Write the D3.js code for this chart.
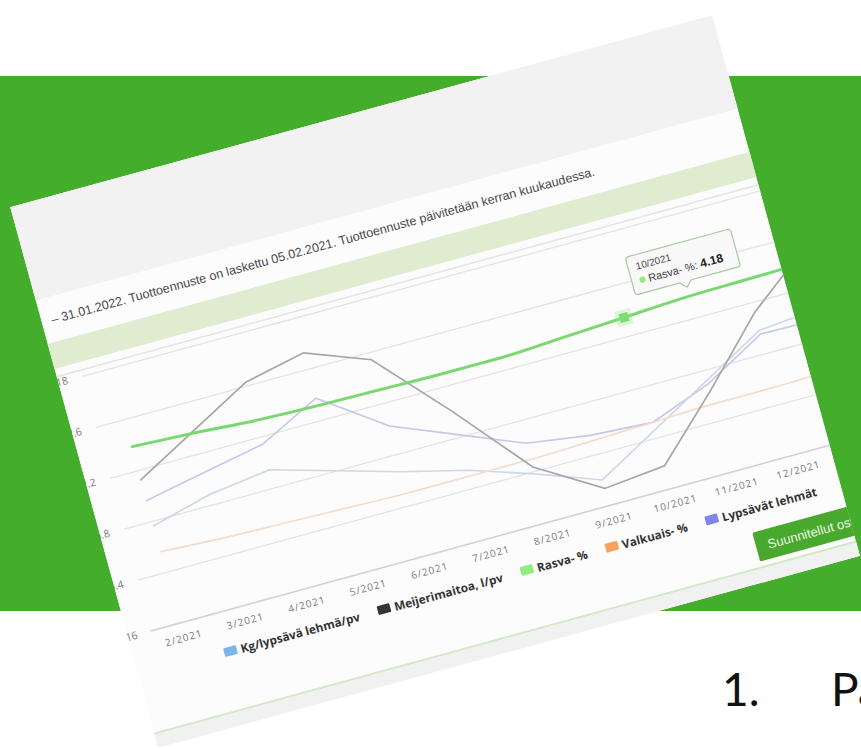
<!DOCTYPE html>
<html>
<head>
<meta charset="utf-8">
<script src="https://cdn.jsdelivr.net/npm/d3@7"></script>
<style>
body { margin: 0; background: #fff; }
svg { display: block; }
</style>
</head>
<body>
<div id="chart"></div>
<script>
// data
var months = ["2/2021", "3/2021", "4/2021", "5/2021", "6/2021", "7/2021", "8/2021", "9/2021", "10/2021", "11/2021", "12/2021", "1/2022"];
var kgPerCow  = [27.8, 28.4, 28.7, 28.0, 27.3, 26.7, 25.9, 25.0, 26.3, 27.6, 28.9, 29.1];
var meijeri   = [468, 506, 544, 559, 531, 451, 365, 320, 327, 395, 468, 523];
var rasva     = [4.23, 4.20, 4.16, 4.14, 4.13, 4.12, 4.12, 4.15, 4.18, 4.21, 4.22, 4.23];
var valkuais  = [3.42, 3.40, 3.39, 3.38, 3.37, 3.37, 3.37, 3.38, 3.39, 3.40, 3.40, 3.41];
var lehmat    = [16.96, 17.05, 17.14, 17.37, 17.02, 16.82, 16.62, 16.55, 16.52, 16.69, 16.95, 16.94];
var yTicks    = [16, 16.4, 16.8, 17.2, 17.6, 18];
var legendNames  = ["Kg/lypsävä lehmä/pv", "Meijerimaitoa, l/pv", "Rasva- %", "Valkuais- %", "Lypsävät lehmät"];
var legendColors = ["#7cb5ec", "#333338", "#90ed7d", "#f7a35c", "#8085e9"];
var tipIndex = 8;

var W = 861, H = 749;
var svg = d3.select("#chart").append("svg").attr("width", W).attr("height", H);

svg.append("rect").attr("width", W).attr("height", H).attr("fill", "#ffffff");
svg.append("rect").attr("x", 0).attr("y", 76).attr("width", W).attr("height", 535).attr("fill", "#44ad2b");

svg.append("text").attr("x", 722).attr("y", 706).text("1.")
  .attr("font-family", "Lato, 'Open Sans', sans-serif").attr("font-size", 46).attr("fill", "#111");
svg.append("text").attr("x", 831).attr("y", 706).text("Pa")
  .attr("font-family", "Lato, 'Open Sans', sans-serif").attr("font-size", 46).attr("fill", "#111");

// the tilted screenshot
var cw = 728, ch = 561;
svg.append("defs").append("clipPath").attr("id", "cardclip")
  .append("rect").attr("width", cw).attr("height", ch);
var card = svg.append("g").attr("transform", "translate(10,207) rotate(-15.3)");
var g = card.append("g").attr("clip-path", "url(#cardclip)");

g.append("rect").attr("width", cw).attr("height", ch).attr("fill", "#fcfcfc");
g.append("rect").attr("width", cw).attr("height", 97).attr("fill", "#f2f2f2");
g.append("rect").attr("y", 142).attr("width", cw).attr("height", 26).attr("fill", "#dfecd0");
g.append("line").attr("x1", 0).attr("x2", cw).attr("y1", 176).attr("y2", 176)
  .attr("stroke", "#e4e4e4").attr("stroke-width", 1.5);

g.append("text").attr("x", 573).attr("y", 124).attr("text-anchor", "end")
  .attr("font-family", "'Liberation Sans', Arial, sans-serif").attr("font-size", 12.6).attr("fill", "#4a4a4a")
  .text("– 31.01.2022. Tuottoennuste on laskettu 05.02.2021. Tuottoennuste päivitetään kerran kuukaudessa.");

// scales
var x = d3.scalePoint().domain(months).range([53.5, 53.5 + 63.7 * 11]);
var yLeft = d3.scaleLinear().domain([16, 18]).range([446, 182]);
var yKg = d3.scaleLinear().domain([24, 34]).range([446, 182]);
var yMeij = d3.scaleLinear().domain([300, 600]).range([446, 182]);
var yRasva = d3.scaleLinear().domain([2.5, 5]).range([446, 182]);
var yValk = d3.scaleLinear().domain([3, 4.5]).range([446, 182]);

// grid + y labels
var ya = g.append("g").attr("transform", "translate(25,0)")
  .call(d3.axisLeft(yLeft).tickValues(yTicks).tickSize(-760).tickPadding(15)
    .tickFormat(function(d) { return d3.format("~g")(d); }));
ya.select(".domain").remove();
ya.selectAll("line").attr("stroke", "#e3e3e3").attr("stroke-width", 1.3);
ya.selectAll("text").attr("font-family", "'Open Sans', sans-serif").attr("font-size", 10.5).attr("fill", "#777");

g.append("line").attr("x1", 23).attr("x2", 780).attr("y1", 446).attr("y2", 446)
  .attr("stroke", "#cfcfcf").attr("stroke-width", 1.3);

var xa = g.append("g").attr("transform", "translate(0,446)")
  .call(d3.axisBottom(x).tickSize(0).tickPadding(12));
xa.select(".domain").remove();
xa.selectAll("text").attr("font-family", "'Open Sans', sans-serif").attr("font-size", 10)
  .attr("letter-spacing", 1).attr("fill", "#7a7a7a");

// series
function lineFor(scale, curve) {
  return d3.line().x(function(d, i) { return x(months[i]); }).y(function(d) { return scale(d); })
    .curve(curve || d3.curveLinear);
}
g.append("path").datum(lehmat).attr("d", lineFor(yLeft)).attr("fill", "none")
  .attr("stroke", "#c6c8e6").attr("stroke-width", 1.6);
g.append("path").datum(kgPerCow).attr("d", lineFor(yKg)).attr("fill", "none")
  .attr("stroke", "#ccd8e8").attr("stroke-width", 1.6);
g.append("path").datum(valkuais).attr("d", lineFor(yValk, d3.curveMonotoneX)).attr("fill", "none")
  .attr("stroke", "#f4dccb").attr("stroke-width", 1.6);
g.append("path").datum(meijeri).attr("d", lineFor(yMeij)).attr("fill", "none")
  .attr("stroke", "#a5a5aa").attr("stroke-width", 1.7);
g.append("path").datum(rasva).attr("d", lineFor(yRasva, d3.curveMonotoneX)).attr("fill", "none")
  .attr("stroke", "#78d970").attr("stroke-width", 3);

// hovered point
var px = x(months[tipIndex]), py = yRasva(rasva[tipIndex]);
g.append("rect").attr("x", px - 8).attr("y", py - 8).attr("width", 16).attr("height", 16)
  .attr("fill", "#90ed7d").attr("opacity", 0.3);
g.append("rect").attr("x", px - 4.5).attr("y", py - 4.5).attr("width", 9).attr("height", 9)
  .attr("fill", "#7ddc73");

// tooltip
var tip = g.append("g").attr("transform", "translate(580,211)");
tip.append("path").attr("d", "M3,0 H106 Q109,0 109,3 V36 Q109,39 106,39 H58 L52,45 L46,39 H3 Q0,39 0,36 V3 Q0,0 3,0 Z")
  .attr("fill", "#f7f7f7").attr("fill-opacity", 0.92).attr("stroke", "#a9c8a2").attr("stroke-width", 1.2);
tip.append("text").attr("x", 8).attr("y", 15).text(months[tipIndex])
  .attr("font-family", "'Liberation Sans', Arial, sans-serif").attr("font-size", 10).attr("fill", "#444");
tip.append("circle").attr("cx", 11).attr("cy", 26).attr("r", 3).attr("fill", "#90ed7d");
var tt = tip.append("text").attr("x", 17).attr("y", 30)
  .attr("font-family", "'Liberation Sans', Arial, sans-serif").attr("font-size", 11).attr("fill", "#444");
tt.append("tspan").text("Rasva- %: ");
tt.append("tspan").attr("font-weight", "bold").attr("font-size", 12).attr("fill", "#222").text(rasva[tipIndex].toFixed(2));

// legend
var lx = 89;
legendNames.forEach(function(name, i) {
  var item = g.append("g").attr("transform", "translate(" + lx + ",482)");
  item.append("rect").attr("width", 13).attr("height", 9).attr("rx", 1).attr("fill", legendColors[i]);
  var t = item.append("text").attr("x", 17).attr("y", 9.5).text(name)
    .attr("font-family", "'Open Sans', sans-serif").attr("font-weight", "bold").attr("font-size", 11.8).attr("fill", "#333");
  lx += 17 + t.node().getComputedTextLength() + 19;
});

// button and bottom edge
g.append("rect").attr("x", 630).attr("y", 510).attr("width", 140).attr("height", 30).attr("rx", 2).attr("fill", "#49a92e");
g.append("text").attr("x", 642).attr("y", 530).text("Suunnitellut ostot")
  .attr("font-family", "'Liberation Sans', Arial, sans-serif").attr("font-size", 13).attr("fill", "#eaf6e4");
g.append("rect").attr("y", 547).attr("width", cw).attr("height", 14).attr("fill", "#f1f1f1");
g.append("line").attr("x1", 0).attr("x2", cw).attr("y1", 546).attr("y2", 546)
  .attr("stroke", "#d3e8c6").attr("stroke-width", 2);
</script>
</body>
</html>
